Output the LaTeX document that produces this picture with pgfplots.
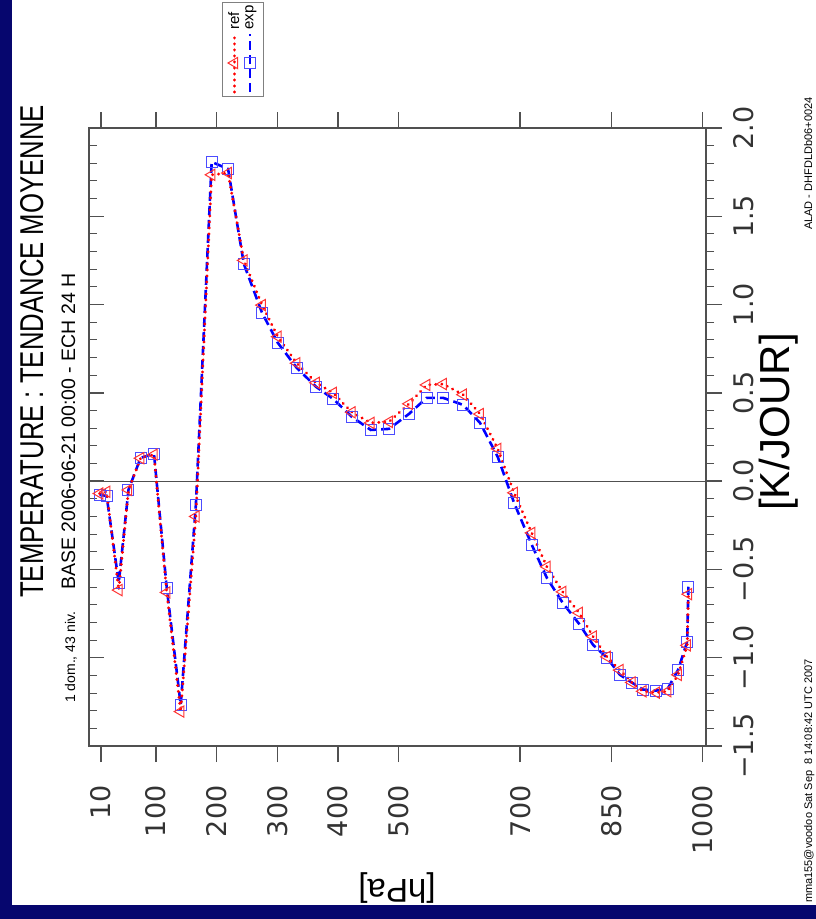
\documentclass[border=0pt]{standalone}
\usepackage{pgfplots}
\pgfplotsset{compat=1.18}
\usepackage{pgfplotstable}
\usepackage{fontspec}
\setmainfont{Liberation Sans}
\newfontfamily\numfont{DejaVu Sans}

\definecolor{navy}{HTML}{06066E}
\definecolor{axgray}{HTML}{505050}
\definecolor{expmark}{HTML}{4C4CFF}
\definecolor{refmark}{HTML}{FF3434}

\pgfplotsset{
  expstyle/.style={blue, line width=2.6pt, dash pattern=on 9pt off 5pt,
    mark=square, mark size=5.5pt,
    mark options={solid, draw=expmark, line width=1pt, fill=none}},
  refstyle/.style={red, line width=3.2pt, dash pattern=on 0.01pt off 6pt, line cap=round,
    mark=triangle, mark size=6.5pt,
    mark options={solid, rotate=90, draw=refmark, line width=1pt, fill=none}},
  % upright legend sample: line going up, name above it
  vleg/.style={legend image code/.code={
    \draw[mark repeat=2, mark phase=2, ##1]
      plot coordinates {(0pt,0pt) (0pt,29pt) (0pt,58pt)};
    \node[rotate=90, anchor=west, inner sep=0pt, text=black,
      font=\fontsize{15}{15}\selectfont] at (0pt,61pt) {#1};}},
}

% p [hPa], tendance [K/jour]
\pgfplotstableread{
p v
7.4 -0.078
19 -0.083
39 -0.576
55 -0.049
75 0.132
97 0.155
118 -0.604
141 -1.267
166 -0.134
192 1.808
219 1.768
245 1.23
275 0.953
301 0.783
332 0.642
364 0.534
392 0.466
423 0.364
454 0.290
484 0.296
517 0.381
546 0.472
573 0.472
606 0.432
634 0.330
663 0.138
690 -0.123
719 -0.360
744 -0.548
770 -0.689
797 -0.808
820 -0.927
843 -1.000
864 -1.096
884 -1.141
902 -1.180
924 -1.186
943 -1.175
960 -1.069
975 -0.910
977 -0.598
}\expdata

\pgfplotstableread{
p v
7.4 -0.070
19 -0.060
39 -0.617
55 -0.050
75 0.130
97 0.150
118 -0.630
141 -1.305
166 -0.200
192 1.735
219 1.745
245 1.250
275 0.997
301 0.818
332 0.668
364 0.557
392 0.500
423 0.390
454 0.330
484 0.336
517 0.438
546 0.545
573 0.550
606 0.490
634 0.380
663 0.183
690 -0.066
719 -0.293
744 -0.485
770 -0.627
797 -0.746
820 -0.880
843 -0.995
864 -1.070
884 -1.140
902 -1.190
924 -1.198
943 -1.190
960 -1.097
975 -0.930
977 -0.640
}\refdata

\begin{document}
\begin{tikzpicture}
\useasboundingbox (0,0) rectangle (816pt,-919pt);
\fill[navy] (0,0) rectangle (816pt,-919pt);
\fill[white] (12pt,0) rectangle (816pt,-905pt);
\clip (12pt,0) rectangle (816pt,-905pt);

% ticks inside on the left edge
\begin{axis}[
  at={(89pt,-746pt)}, anchor=south west,
  scale only axis, width=617pt, height=618pt,
  xmin=-10, xmax=1006, ymin=-1.5, ymax=2,
  axis line style={draw=none},
  xtick=\empty,
  ytick={-1.5,-1,-0.5,0,0.5,1,1.5,2}, yticklabels={},
  minor y tick num=4,
  ytick pos=left, tick align=inside,
  major tick length=15pt, minor tick length=8pt,
  every tick/.style={line width=1.5pt, axgray},
  every minor tick/.style={line width=1pt, axgray},
]
\end{axis}

\begin{axis}[
  at={(89pt,-746pt)}, anchor=south west,
  scale only axis, width=617pt, height=618pt,
  xmin=-10, xmax=1006, ymin=-1.5, ymax=2,
  axis line style={line width=1.6pt, axgray},
  xtick={10,100,200,300,400,500,700,850,1000},
  xticklabels={10,100,200,300,400,500,700,850,1000},
  xtick pos=both, xticklabel pos=lower,
  ytick={-1.5,-1,-0.5,0,0.5,1,1.5,2},
  yticklabels={−1.5,−1.0,−0.5,0.0,0.5,1.0,1.5,2.0},
  ytick pos=right, yticklabel pos=right,
  minor y tick num=4,
  tick align=outside,
  major tick length=16pt, minor tick length=8pt,
  every tick/.style={line width=1.5pt, axgray},
  every minor tick/.style={line width=1pt, axgray},
  tick label style={font=\numfont\fontsize{27}{27}\selectfont, text=black!80},
  xticklabel style={rotate=90, anchor=east},
  xticklabel shift=20pt,
  yticklabel style={rotate=90, anchor=north},
  yticklabel shift=8pt,
  legend columns=2,
  legend style={at={(0.2496,1.050)}, anchor=south, draw=gray,
    line width=1pt, inner xsep=5pt, inner ysep=3pt, column sep=1.5pt,
    font=\tiny, nodes={inner sep=0pt}},
]
\addplot[forget plot, axgray, line width=0.8pt] coordinates {(-10,0) (1006,0)};
\addplot[expstyle, forget plot] table[x=p, y=v] {\expdata};
\addplot[refstyle, forget plot] table[x=p, y=v] {\refdata};
\addlegendimage{refstyle, vleg=ref}
\addlegendentry{}
\addlegendimage{expstyle, vleg=exp}
\addlegendentry{}
\end{axis}

\node[rotate=90, anchor=base west, inner sep=0] at (43pt,-598pt)
  {\scalebox{0.78}[1]{\fontsize{33}{33}\selectfont TEMPERATURE : TENDANCE MOYENNE}};
\node[rotate=90, anchor=base west, inner sep=0] at (75pt,-703pt)
  {\fontsize{14}{14}\selectfont 1 dom., 43 niv.};
\node[rotate=90, anchor=base west, inner sep=0] at (75pt,-590pt)
  {\fontsize{19.5}{19.5}\selectfont BASE 2006-06-21 00:00 - ECH 24 H};
\node[rotate=90, anchor=base, inner sep=0] at (789pt,-422pt)
  {\fontsize{42}{42}\selectfont [K/JOUR]};
\node[rotate=180, anchor=center, inner sep=0] at (397pt,-888pt)
  {\fontsize{33}{33}\selectfont [hPa]};
\node[rotate=90, anchor=base west, inner sep=0] at (812pt,-903pt)
  {\fontsize{11}{11}\selectfont mma155@voodoo Sat Sep\ \ 8 14:08:42 UTC 2007};
\node[rotate=90, anchor=base west, inner sep=0] at (812pt,-230pt)
  {\fontsize{11}{11}\selectfont ALAD - DHFDLDb06+0024};
\end{tikzpicture}
\end{document}
